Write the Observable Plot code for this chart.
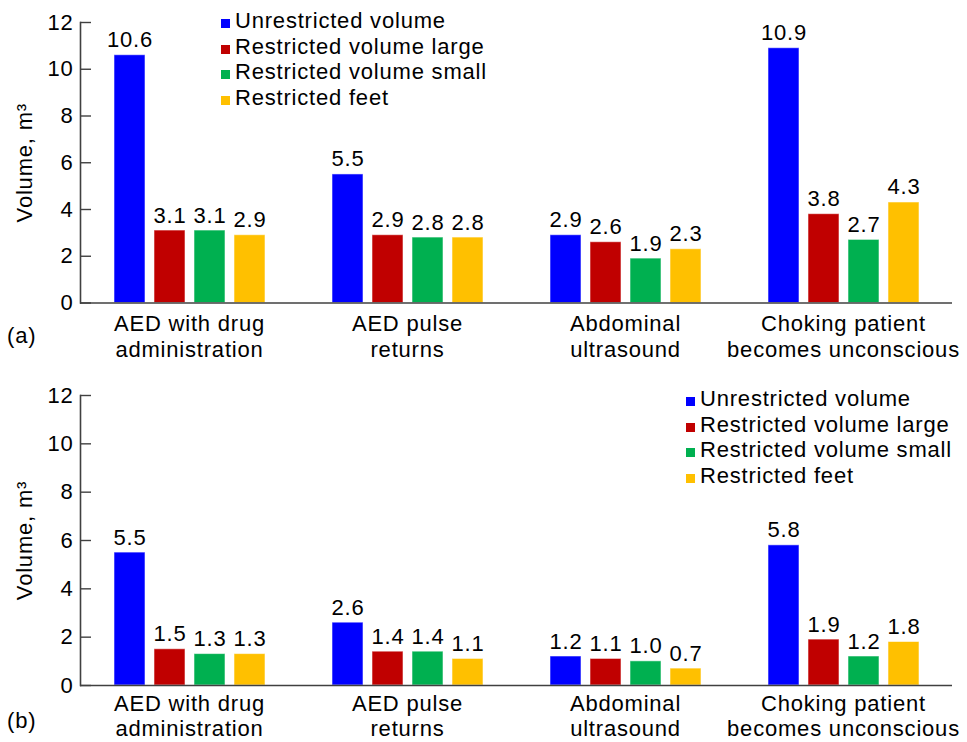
<!DOCTYPE html>
<html><head><meta charset="utf-8">
<script src="https://cdn.jsdelivr.net/npm/d3@7"></script>
<script src="https://cdn.jsdelivr.net/npm/@observablehq/plot@0.6"></script>
<style>
body{margin:0;background:#fff;font-family:"Liberation Sans",Arial,sans-serif;color:#000;}
#wrap{position:relative;width:967px;height:742px;overflow:hidden;}
.panel{position:absolute;left:0;width:967px;}
.panel svg text{letter-spacing:0.8px;}
.legend{position:absolute;font-size:22px;line-height:25.6px;letter-spacing:0.8px;}
.legend .row{white-space:nowrap;}
.legend .sw{display:inline-block;width:9px;height:9px;margin-right:5px;vertical-align:baseline;}
.tag{position:absolute;font-size:22px;line-height:22px;letter-spacing:0.8px;}
</style></head><body>
<div id="wrap"></div>
<script>
const categories = ["AED with drug\nadministration", "AED pulse\nreturns", "Abdominal\nultrasound", "Choking patient\nbecomes unconscious"];
const series = ["Unrestricted volume", "Restricted volume large", "Restricted volume small", "Restricted feet"];
const colors = ["#0000FF", "#C00000", "#00B050", "#FFC000"];
// rows = categories, columns = series
const valuesA = [
  [10.6, 3.1, 3.1, 2.9],
  [5.5, 2.9, 2.8, 2.8],
  [2.9, 2.6, 1.9, 2.3],
  [10.9, 3.8, 2.7, 4.3]
];
const valuesB = [
  [5.5, 1.5, 1.3, 1.3],
  [2.6, 1.4, 1.4, 1.1],
  [1.2, 1.1, 1.0, 0.7],
  [5.8, 1.9, 1.2, 1.8]
];
const yTicks = [0, 2, 4, 6, 8, 10, 12];
const yLabel = "Volume, m\u00B3";

const wrap = document.getElementById("wrap");

function makePanel(values, cfg) {
  const data = [];
  categories.forEach((c, i) => series.forEach((s, j) => data.push({cat: c, series: s, value: values[i][j]})));
  const chart = Plot.plot({
    width: 967,
    height: cfg.height,
    marginTop: cfg.marginTop,
    marginBottom: cfg.marginBottom,
    marginLeft: 80,
    marginRight: 15,
    style: {fontFamily: "'Liberation Sans', Arial, sans-serif", fontSize: "22px", color: "#000", background: "#fff", overflow: "visible"},
    fx: {domain: categories, padding: 0, label: null, axis: null},
    x: {domain: series, paddingInner: 0.225, paddingOuter: 0.8375, axis: null},
    y: {domain: [0, 12], ticks: yTicks, label: null, axis: null},
    color: {domain: series, range: colors},
    marks: [
      Plot.barY(data, {fx: "cat", x: "series", y: "value", fill: "series", stroke: "#ffffff", strokeOpacity: 0.55, strokeWidth: 1}),
      Plot.text(data, {fx: "cat", x: "series", y: "value", text: d => d.value.toFixed(1), lineAnchor: "bottom", dy: -8, fontSize: 22, fill: "#000"}),
      Plot.ruleY([0], {stroke: "#404040", strokeWidth: 1.6}),
      Plot.frame({anchor: "left", facetAnchor: "left", stroke: "#404040", strokeWidth: 1.6}),
      Plot.axisY({ticks: yTicks, tickSize: -11, tickPadding: 18, stroke: "#404040", strokeWidth: 1.4, fontSize: 22, label: yLabel, labelAnchor: "center", labelOffset: 64, labelArrow: "none"}),
      Plot.axisFx({anchor: "bottom", tickSize: 0, tickPadding: cfg.fxPad, fontSize: 22, lineHeight: cfg.lineHeight, label: null})
    ]
  });
  const div = document.createElement("div");
  div.className = "panel";
  div.style.top = cfg.top + "px";
  div.appendChild(chart);
  wrap.appendChild(div);

  const leg = document.createElement("div");
  leg.className = "legend";
  leg.style.left = cfg.legendX + "px";
  leg.style.top = cfg.legendY + "px";
  series.forEach((s, j) => {
    const row = document.createElement("div");
    row.className = "row";
    const sw = document.createElement("span");
    sw.className = "sw";
    sw.style.background = colors[j];
    row.appendChild(sw);
    row.appendChild(document.createTextNode(s));
    leg.appendChild(row);
  });
  wrap.appendChild(leg);

  const tag = document.createElement("div");
  tag.className = "tag";
  tag.style.left = "7px";
  tag.style.top = cfg.tagY + "px";
  tag.textContent = cfg.tag;
  wrap.appendChild(tag);
}

makePanel(valuesA, {top: 0, height: 360, marginTop: 22, marginBottom: 57.5, fxPad: 10, lineHeight: 1.18, legendX: 221, legendY: 8, tag: "(a)", tagY: 325});
makePanel(valuesB, {top: 360, height: 382, marginTop: 35, marginBottom: 57, fxPad: 8, lineHeight: 1.14, legendX: 686, legendY: 386, tag: "(b)", tagY: 710});
</script>
</body></html>
